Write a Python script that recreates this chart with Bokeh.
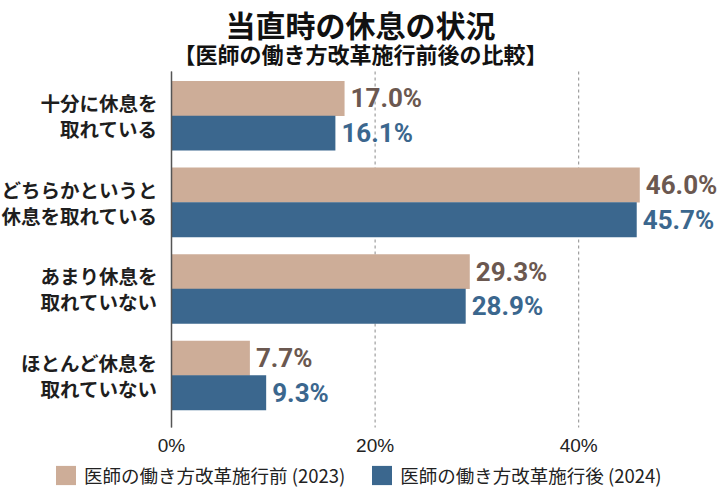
from bokeh.plotting import figure
from bokeh.models import Range1d, ColumnDataSource, LabelSet, Label
from bokeh.core.properties import value
from bokeh.transform import dodge
from bokeh.embed import file_html
from bokeh.resources import INLINE

# ---- data ----
categories = ["十分に休息を\n取れている", "どちらかというと\n休息を取れている",
              "あまり休息を\n取れていない", "ほとんど休息を\n取れていない"]
before_2023 = [17.0, 46.0, 29.3, 7.7]
after_2024 = [16.1, 45.7, 28.9, 9.3]
series_names = ["医師の働き方改革施行前 (2023)", "医師の働き方改革施行後 (2024)"]
x_ticks = [0, 20, 40]
x_tick_labels = ["0%", "20%", "40%"]
title_lines = ["当直時の休息の状況", "【医師の働き方改革施行前後の比較】"]

# ---- styles / layout ----
TAN = "#CDAD98"
BLUE = "#3B678E"
TAN_TXT = "#6B5850"
JP = "Noto Sans CJK JP"
NUM = "Roboto"
W, H = 720, 491
X0_PX = 171          # pixel of the 0% line
PX_PER_PCT = 10.18
U = 86.57            # pixels per category row
ROW0_PX = 115.3      # pixel centre of the first category
FRAME_TOP, FRAME_BOTTOM = 71, 427

n = len(categories)
pos = [n - 1 - i for i in range(n)]


def py(px):
    """page pixel row -> data y"""
    return (n - 1) - (px - ROW0_PX) / U


src = ColumnDataSource(dict(
    pos=pos, before=before_2023, after=after_2024,
    before_txt=[f"{v:.1f}%" for v in before_2023],
    after_txt=[f"{v:.1f}%" for v in after_2024],
    line1=[c.split("\n")[0] for c in categories],
    line2=[c.split("\n")[1] for c in categories],
))
tick_src = ColumnDataSource(dict(t=x_ticks, lab=x_tick_labels))

p = figure(width=W, height=H, output_backend="svg", toolbar_location=None,
           title=None, x_axis_type=None, y_axis_type=None,
           x_range=Range1d(-X0_PX / PX_PER_PCT, (W - X0_PX) / PX_PER_PCT),
           y_range=Range1d(py(H), py(0)),
           min_border=0)
p.outline_line_color = None
p.background_fill_color = "white"
p.border_fill_color = "white"

# dashed vertical grid lines at the ticks
p.segment(x0="t", x1="t", y0=py(FRAME_TOP), y1=py(FRAME_BOTTOM), source=tick_src,
          line_color="#8a8a8a", line_dash="3 3", line_width=1)

# bars
BH = 0.404
p.hbar(y=dodge("pos", 0.2), left=0, right="before", height=BH, color=TAN,
       line_color=None, source=src, legend_label=series_names[0])
p.hbar(y=dodge("pos", -0.2), left=0, right="after", height=BH, color=BLUE,
       line_color=None, source=src, legend_label=series_names[1])

# zero axis line
p.segment(x0=0, x1=0, y0=py(FRAME_TOP), y1=py(FRAME_BOTTOM),
          line_color="#555555", line_width=1.5)

# x tick labels
p.add_layout(LabelSet(x="t", y=py(445), text="lab", source=tick_src,
                      text_align="center", text_baseline="middle",
                      text_font=value("Liberation Sans"), text_font_size="19px",
                      text_color="#222222"))

# value labels
p.add_layout(LabelSet(x="before", y=dodge("pos", 0.2), text="before_txt", source=src,
                      x_offset=6, text_baseline="middle", text_align="left",
                      text_font=value(NUM), text_font_style="bold", text_font_size="26px",
                      text_color=TAN_TXT))
p.add_layout(LabelSet(x="after", y=dodge("pos", -0.2), text="after_txt", source=src,
                      x_offset=6, text_baseline="middle", text_align="left",
                      text_font=value(NUM), text_font_style="bold", text_font_size="26px",
                      text_color=BLUE))

# category labels (two lines, right aligned)
for col, off in (("line1", 0.15), ("line2", -0.15)):
    p.add_layout(LabelSet(x=0, y=dodge("pos", off), text=col, source=src,
                          x_offset=-14, text_baseline="middle", text_align="right",
                          text_font=value(JP), text_font_style="bold",
                          text_font_size="19.5px", text_color="#1e1e1e"))

# titles
p.add_layout(Label(x=0, x_offset=360 - X0_PX, y=py(23), text=title_lines[0],
                   text_align="center", text_baseline="middle", text_font=JP,
                   text_font_style="bold", text_font_size="30px", text_color="#111111"))
p.add_layout(Label(x=0, x_offset=360 - X0_PX, y=py(52), text=title_lines[1],
                   text_align="center", text_baseline="middle", text_font=JP,
                   text_font_style="bold", text_font_size="22px", text_color="#111111"))

# legend
lg = p.legend[0]
lg.orientation = "horizontal"
lg.location = (53, 3)
lg.padding = 0
lg.margin = 0
lg.spacing = 24
lg.border_line_color = None
lg.background_fill_alpha = 0
lg.glyph_width = 25
lg.glyph_height = 24
lg.label_height = 24
lg.label_standoff = 6
lg.label_text_font = JP
lg.label_text_font_size = "18.5px"
lg.label_text_color = "#222222"

open("out.html", "w").write(file_html(p, INLINE))
